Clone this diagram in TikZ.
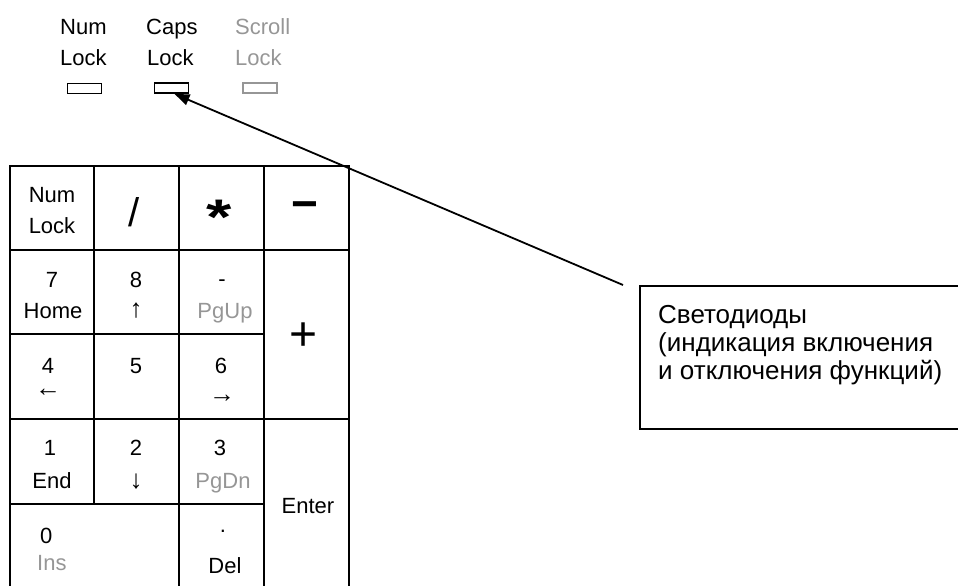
\documentclass[tikz,border=0pt]{standalone}
\usepackage{fontspec}
\setmainfont{Liberation Sans}
\usetikzlibrary{arrows.meta,calc}
\definecolor{dimgray}{RGB}{150,150,150}
\begin{document}
\begin{tikzpicture}[x=1pt,y=-1pt,
  keyfont/.style={font=\fontsize{22}{26}\selectfont},
  arrowfont/.style={font=\fontsize{26}{30}\selectfont},
  lbl/.style={keyfont, inner sep=0pt, anchor=base},
  lblw/.style={keyfont, inner sep=0pt, anchor=base west},
  sym/.style={inner sep=0pt, anchor=center},
  dim/.style={text=dimgray},
  gridline/.style={line width=2pt, line cap=rect},
  led/.style={draw, line width=1.8pt, minimum width=34pt, minimum height=10pt, inner sep=0pt},
  callout/.style={draw, line width=2pt, anchor=north west, minimum width=340pt, minimum height=143pt, inner sep=0pt},
  pointer/.style={line width=1.8pt, -{Triangle[length=15pt,width=11pt]}},
]
\useasboundingbox (0,0) rectangle (958,586);

% LED indicator labels
\node[lblw] (numA) at (60,35) {Num};
\node[lblw] (numB) at (60,66) {Lock};
\node[lblw] (capsA) at (146,35) {Caps};
\node[lblw] (capsB) at (147,66) {Lock};
\node[lblw, dim] (scrA) at (235,35) {Scroll};
\node[lblw, dim] (scrB) at (235,66) {Lock};

% LEDs
\node[led] (numled) at (84.5,88.5) {};
\node[led] (capsled) at (171.5,88) {};
\node[led, draw=dimgray] (scrled) at (260,88) {};

% keypad grid
\draw[gridline] (10,589) -- (10,166) -- (349,166) -- (349,589);
\draw[gridline] (94,166) -- (94,504);
\draw[gridline] (179,166) -- (179,589);
\draw[gridline] (264,166) -- (264,589);
\draw[gridline] (10,250) -- (349,250);
\draw[gridline] (10,334) -- (264,334);
\draw[gridline] (10,419) -- (349,419);
\draw[gridline] (10,504) -- (264,504);
\draw[gridline] (10,589) -- (349,589);

% row 1
\node[lbl] (k1a) at (52,202) {Num};
\node[lbl] (k1b) at (52,233) {Lock};
\node[sym, font=\fontsize{40}{44}\selectfont] (kslash) at (134,212.5) {/};
\node[sym, font=\fontsize{50}{54}\selectfont\bfseries] (kstar) at (219,217) {\scalebox{1.3}[1]{*}};
\node[sym, font=\fontsize{46}{50}\selectfont\bfseries] (kminus) at (305,211) {−};

% row 2
\node[lbl] (k7) at (52,287) {7};
\node[lbl] (khome) at (53,318) {Home};
\node[lbl] (k8) at (136,287) {8};
\node[sym, arrowfont] (kup) at (136,311) {↑};
\node[sym, keyfont] (kdash) at (222,283) {-};
\node[lbl, dim] (kpgup) at (225,318) {PgUp};
\node[sym, font=\fontsize{48}{52}\selectfont] (kplus) at (304,337) {+};

% row 3
\node[lbl] (k4) at (48,373) {4};
\node[sym, arrowfont] (kleft) at (48,393) {←};
\node[lbl] (k5) at (136,373) {5};
\node[lbl] (k6) at (221,373) {6};
\node[sym, arrowfont] (kright) at (222,399) {→};

% row 4
\node[lbl] (k1) at (50,455) {1};
\node[lbl] (kend) at (52,488) {End};
\node[lbl] (k2) at (136,455) {2};
\node[sym, arrowfont] (kdown) at (136,482) {↓};
\node[lbl] (k3) at (220,455) {3};
\node[lbl, dim] (kpgdn) at (223,488) {PgDn};
\node[lbl] (kenter) at (308,513) {Enter};

% row 5
\node[lblw] (k0) at (40,543) {0};
\node[lblw, dim] (kins) at (37,570) {Ins};
\node[lbl] (kdot) at (223,532) {.};
\node[lbl] (kdel) at (225,573) {Del};

% callout
\node[callout] (box) at (639,285) {};
\node[anchor=north west, align=left, inner sep=0pt, font=\fontsize{26}{28}\selectfont] (boxtext) at (658,305)
  {Светодиоды\\(индикация включения\\и отключения функций)};
\coordinate (tail) at ($(box.north west)+(-16,0)$);
\draw[pointer] (tail) -- ($(capsled.south)+(3,0)$);
\end{tikzpicture}
\end{document}
